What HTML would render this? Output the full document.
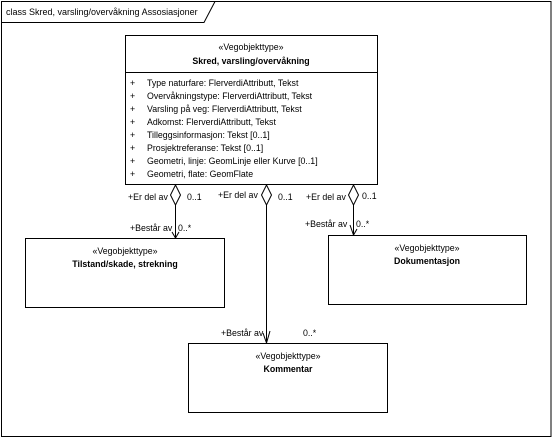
<!DOCTYPE html>
<html><head><meta charset="utf-8"><style>
body{margin:0;background:#fff;}
svg text{font-family:"Liberation Sans",sans-serif;font-size:8.8px;fill:#000;}
.b{font-weight:bold;}
</style></head><body>
<svg width="553" height="438" viewBox="0 0 553 438" xmlns="http://www.w3.org/2000/svg">
<rect x="0" y="0" width="553" height="438" fill="#fff"/>
<rect x="1.5" y="1.5" width="549.5" height="435" fill="none" stroke="#000"/>
<polyline points="1.5,22.5 204,22.5 215,1.5" fill="none" stroke="#000"/>
<text x="6" y="15" style="font-size:9px">class Skred, varsling/overvåkning Assosiasjoner</text>

<rect x="125.5" y="35.5" width="252" height="149" fill="#fff" stroke="#000"/>
<line x1="125.5" y1="72.5" x2="377.5" y2="72.5" stroke="#000"/>
<text x="251" y="50" text-anchor="middle">«Vegobjekttype»</text>
<text x="251" y="64" text-anchor="middle" class="b">Skred, varsling/overvåkning</text>
<g>
<text x="130" y="86">+</text><text x="147" y="86">Type naturfare: FlerverdiAttributt, Tekst</text>
<text x="130" y="99">+</text><text x="147" y="99">Overvåkningstype: FlerverdiAttributt, Tekst</text>
<text x="130" y="112">+</text><text x="147" y="112">Varsling på veg: FlerverdiAttributt, Tekst</text>
<text x="130" y="125">+</text><text x="147" y="125">Adkomst: FlerverdiAttributt, Tekst</text>
<text x="130" y="138">+</text><text x="147" y="138">Tilleggsinformasjon: Tekst [0..1]</text>
<text x="130" y="151">+</text><text x="147" y="151">Prosjektreferanse: Tekst [0..1]</text>
<text x="130" y="164">+</text><text x="147" y="164">Geometri, linje: GeomLinje eller Kurve [0..1]</text>
<text x="130" y="177">+</text><text x="147" y="177">Geometri, flate: GeomFlate</text>
</g>

<g fill="#fff" stroke="#000">
<polygon points="175.5,185 180.5,195 175.5,205 170.5,195"/>
<polygon points="266.5,185 271.5,195 266.5,205 261.5,195"/>
<polygon points="353.5,185 358.5,195 353.5,205 348.5,195"/>
</g>
<g fill="none" stroke="#000">
<line x1="175.5" y1="205" x2="175.5" y2="238"/>
<polyline points="172,232 175.5,238 179,232"/>
<line x1="266.5" y1="205" x2="266.5" y2="343"/>
<polyline points="263,333 266.5,343 270,331"/>
<line x1="353.5" y1="205" x2="353.5" y2="235"/>
<polyline points="350,225 353.5,235 357,229"/>
</g>
<text x="128" y="200">+Er del av</text><text x="187" y="200">0..1</text>
<text x="218" y="198">+Er del av</text><text x="278" y="200">0..1</text>
<text x="306" y="200">+Er del av</text><text x="362" y="199">0..1</text>
<text x="130" y="231">+Består av</text><text x="178" y="231">0..*</text>
<text x="305" y="227">+Består av</text><text x="356" y="227">0..*</text>
<text x="221" y="336">+Består av</text><text x="303" y="336">0..*</text>

<rect x="25.5" y="238.5" width="199" height="69" fill="#fff" stroke="#000"/>
<text x="125" y="254" text-anchor="middle">«Vegobjekttype»</text>
<text x="125" y="267" text-anchor="middle" class="b">Tilstand/skade, strekning</text>

<rect x="328.5" y="235.5" width="198" height="69" fill="#fff" stroke="#000"/>
<text x="427" y="251" text-anchor="middle">«Vegobjekttype»</text>
<text x="427" y="264" text-anchor="middle" class="b">Dokumentasjon</text>

<rect x="188.5" y="343.5" width="199" height="69" fill="#fff" stroke="#000"/>
<text x="288" y="359" text-anchor="middle">«Vegobjekttype»</text>
<text x="288" y="372" text-anchor="middle" class="b">Kommentar</text>
</svg>
</body></html>
